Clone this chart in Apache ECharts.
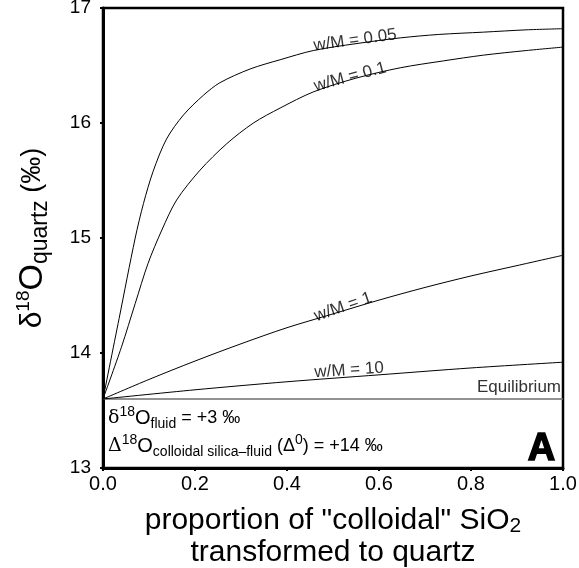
<!DOCTYPE html>
<html>
<head>
<meta charset="utf-8">
<script src="https://cdn.jsdelivr.net/npm/echarts@6/dist/echarts.min.js"></script>
<style>
  html, body { margin: 0; padding: 0; background: #fff; }
  #chart { width: 579px; height: 568px; }
</style>
</head>
<body>
<div id="chart"></div>
<script>
// values
var prop005 = [0, 0.035, 0.07, 0.088, 0.109, 0.138, 0.175, 0.218, 0.254, 0.32, 0.385, 0.457, 0.55, 0.646, 0.73, 0.827, 0.92, 1.0];
var d18O005 = [13.6, 14.3, 15.0, 15.3, 15.58, 15.86, 16.07, 16.24, 16.35, 16.47, 16.55, 16.63, 16.69, 16.74, 16.77, 16.79, 16.81, 16.82];

var prop01 = [0, 0.04, 0.07, 0.098, 0.128, 0.16, 0.211, 0.269, 0.327, 0.385, 0.457, 0.55, 0.646, 0.74, 0.827, 0.92, 1.0];
var d18O01 = [13.6, 14.05, 14.43, 14.78, 15.07, 15.33, 15.59, 15.82, 16.0, 16.13, 16.27, 16.39, 16.48, 16.54, 16.59, 16.63, 16.66];

var prop1 = [0, 0.1, 0.2, 0.3, 0.4, 0.5, 0.6, 0.7, 0.8, 0.9, 1.0];
var d18O1 = [13.6, 13.77, 13.93, 14.08, 14.22, 14.34, 14.46, 14.57, 14.67, 14.76, 14.85];

var prop10 = [0, 0.2, 0.4, 0.6, 0.8, 1.0];
var d18O10 = [13.6, 13.68, 13.75, 13.81, 13.87, 13.92];

var equilibrium = 13.6;
var xTicks = [0, 0.2, 0.4, 0.6, 0.8, 1.0];
var yTicks = [13, 14, 15, 16, 17];
var curveNames = ['w/M = 0.05', 'w/M = 0.1', 'w/M = 1', 'w/M = 10'];

var FONT = "'Liberation Sans', Arial, Helvetica, sans-serif";

function pairs(xs, ys) {
    var out = [];
    for (var i = 0; i < xs.length; i++) out.push([xs[i], ys[i]]);
    return out;
}

function curve(name, xs, ys) {
    return {
        name: name,
        type: 'line',
        showSymbol: false,
        smooth: 0.3,
        animation: false,
        silent: true,
        lineStyle: { color: '#000', width: 1 },
        data: pairs(xs, ys)
    };
}

var chart = echarts.init(document.getElementById('chart'));
chart.setOption({
    backgroundColor: '#fff',
    animation: false,
    grid: {
        left: 103, right: 16, top: 8, bottom: 100,
        outerBoundsMode: 'none',
        containLabel: false,
        show: true, borderColor: '#000', borderWidth: 2.5
    },
    xAxis: {
        type: 'value',
        min: xTicks[0], max: xTicks[xTicks.length - 1], interval: 0.2,
        axisLine: { lineStyle: { color: '#000', width: 3 } },
        axisTick: { length: 3, lineStyle: { color: '#000', width: 2 } },
        splitLine: { show: false },
        axisLabel: {
            color: '#000', fontSize: 20, fontFamily: FONT, margin: 6,
            formatter: function (v) { return v.toFixed(1); }
        },
        name: '{t|proportion of "colloidal" SiO}{sub|2}\n{t|transformed to quartz}',
        nameLocation: 'middle',
        nameGap: 37,
        nameTextStyle: {
            color: '#000', fontFamily: FONT,
            rich: {
                t: { fontSize: 30, fontFamily: FONT, color: '#000', lineHeight: 32 },
                sub: { fontSize: 21, fontFamily: FONT, color: '#000', lineHeight: 17, verticalAlign: 'bottom' }
            }
        }
    },
    yAxis: {
        type: 'value',
        min: yTicks[0], max: yTicks[yTicks.length - 1], interval: 1,
        axisLine: { lineStyle: { color: '#000', width: 3 } },
        axisTick: { length: 3, lineStyle: { color: '#000', width: 2 } },
        splitLine: { show: false },
        axisLabel: { color: '#000', fontSize: 19, fontFamily: FONT, margin: 12 },
        name: '{d|δ}{sup|18}{o|O}{sub|quartz}{t| (‰)}',
        nameLocation: 'middle',
        nameRotate: 90,
        nameGap: 51,
        nameTextStyle: {
            color: '#000', fontFamily: FONT,
            rich: {
                d: { fontSize: 30, fontFamily: FONT, color: '#000', lineHeight: 38 },
                sup: { fontSize: 19, fontFamily: FONT, color: '#000', lineHeight: 19, verticalAlign: 'top' },
                o: { fontSize: 34, fontFamily: FONT, color: '#000', lineHeight: 38 },
                sub: { fontSize: 23, fontFamily: FONT, color: '#000', lineHeight: 18, verticalAlign: 'bottom' },
                t: { fontSize: 27, fontFamily: FONT, color: '#000', lineHeight: 38 }
            }
        }
    },
    series: [
        {
            name: 'Equilibrium',
            type: 'line',
            showSymbol: false,
            animation: false,
            silent: true,
            lineStyle: { color: '#6e6e6e', width: 1.6 },
            data: [[xTicks[0], equilibrium], [xTicks[xTicks.length - 1], equilibrium]]
        },
        curve(curveNames[0], prop005, d18O005),
        curve(curveNames[1], prop01, d18O01),
        curve(curveNames[2], prop1, d18O1),
        curve(curveNames[3], prop10, d18O10)
    ]
});

// label anchors along the curves: [text, x, y, angle in degrees]
var curveLabelSpots = [
    [curveNames[0], 0.548, 16.72, 7.7],
    [curveNames[1], 0.537, 16.40, 15],
    [curveNames[2], 0.522, 14.40, 19],
    [curveNames[3], 0.535, 13.85, 4]
];

var graphics = [];
curveLabelSpots.forEach(function (s) {
    var p = chart.convertToPixel({ gridIndex: 0 }, [s[1], s[2]]);
    graphics.push({
        type: 'text', x: p[0], y: p[1], rotation: s[3] * Math.PI / 180, silent: true,
        style: { text: s[0], fill: '#333', font: '17px ' + FONT, align: 'center', verticalAlign: 'middle' }
    });
});

var eq = chart.convertToPixel({ gridIndex: 0 }, [1, equilibrium]);
graphics.push({
    type: 'text', x: eq[0] - 2, y: eq[1] - 3, silent: true,
    style: { text: 'Equilibrium', fill: '#333', font: '17px ' + FONT, align: 'right', verticalAlign: 'bottom' }
});

var annRich = {
    g: { fontSize: 19, fontFamily: 'DejaVu Serif, serif', fill: '#000', lineHeight: 26 },
    m: { fontSize: 18, fontFamily: FONT, fill: '#000', lineHeight: 26 },
    o: { fontSize: 20, fontFamily: FONT, fill: '#000', lineHeight: 26 },
    sup: { fontSize: 14, fontFamily: FONT, fill: '#000', lineHeight: 13, verticalAlign: 'top' },
    sub: { fontSize: 14, fontFamily: FONT, fill: '#000', lineHeight: 13, verticalAlign: 'bottom' }
};
graphics.push({
    type: 'text', left: 108, top: 405, silent: true,
    style: { text: '{g|δ}{sup|18}{o|O}{sub|fluid}{m| = +3 ‰}', rich: annRich }
});
graphics.push({
    type: 'text', left: 108, top: 433, silent: true,
    style: { text: '{g|Δ}{sup|18}{o|O}{sub|colloidal silica–fluid}{m| (Δ}{sup|0}{m|) = +14 ‰}', rich: annRich }
});
graphics.push({
    type: 'text', right: 23, top: 430, silent: true,
    style: { text: 'A', fill: '#000', stroke: '#000', lineWidth: 1.5, font: '900 38px ' + FONT }
});

chart.setOption({ graphic: graphics });
</script>
</body>
</html>
